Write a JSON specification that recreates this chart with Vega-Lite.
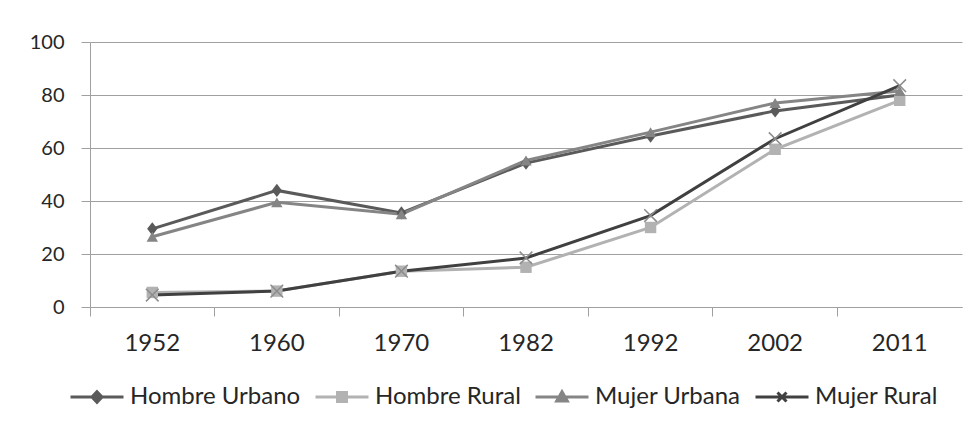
{
  "$schema": "https://vega.github.io/schema/vega-lite/v6.json",
  "width": 872,
  "height": 265,
  "autosize": {"type": "none"},
  "padding": {"left": 90, "top": 42, "right": 15, "bottom": 119},
  "background": "white",
  "data": {
    "values": [
      {"year": "1952", "series": "Hombre Urbano", "value": 29.5},
      {"year": "1960", "series": "Hombre Urbano", "value": 44},
      {"year": "1970", "series": "Hombre Urbano", "value": 35.5},
      {"year": "1982", "series": "Hombre Urbano", "value": 54.3},
      {"year": "1992", "series": "Hombre Urbano", "value": 64.5},
      {"year": "2002", "series": "Hombre Urbano", "value": 74},
      {"year": "2011", "series": "Hombre Urbano", "value": 80},
      {"year": "1952", "series": "Hombre Rural", "value": 5.5},
      {"year": "1960", "series": "Hombre Rural", "value": 6},
      {"year": "1970", "series": "Hombre Rural", "value": 13.5},
      {"year": "1982", "series": "Hombre Rural", "value": 15},
      {"year": "1992", "series": "Hombre Rural", "value": 30},
      {"year": "2002", "series": "Hombre Rural", "value": 59.5},
      {"year": "2011", "series": "Hombre Rural", "value": 78},
      {"year": "1952", "series": "Mujer Urbana", "value": 26.5},
      {"year": "1960", "series": "Mujer Urbana", "value": 39.5},
      {"year": "1970", "series": "Mujer Urbana", "value": 35},
      {"year": "1982", "series": "Mujer Urbana", "value": 55.3},
      {"year": "1992", "series": "Mujer Urbana", "value": 66},
      {"year": "2002", "series": "Mujer Urbana", "value": 77},
      {"year": "2011", "series": "Mujer Urbana", "value": 81.5},
      {"year": "1952", "series": "Mujer Rural", "value": 4.5},
      {"year": "1960", "series": "Mujer Rural", "value": 6},
      {"year": "1970", "series": "Mujer Rural", "value": 13.5},
      {"year": "1982", "series": "Mujer Rural", "value": 18.5},
      {"year": "1992", "series": "Mujer Rural", "value": 34.5},
      {"year": "2002", "series": "Mujer Rural", "value": 63.5},
      {"year": "2011", "series": "Mujer Rural", "value": 83.5}
    ]
  },
  "encoding": {
    "x": {
      "field": "year",
      "type": "ordinal",
      "bandPosition": 0.5,
      "scale": {"type": "band", "paddingInner": 0, "paddingOuter": 0},
      "axis": {
        "title": null,
        "labelAngle": 0,
        "bandPosition": 0,
        "domainColor": "#a0a0a0",
        "tickColor": "#a0a0a0",
        "tickSize": 9,
        "grid": false,
        "labelFontSize": 24,
        "labelFont": "Lato",
        "labelColor": "#262626",
        "labelPadding": 15
      }
    },
    "y": {
      "field": "value",
      "type": "quantitative",
      "scale": {"domain": [0, 100], "nice": false},
      "axis": {
        "title": null,
        "values": [0, 20, 40, 60, 80, 100],
        "domainColor": "#a0a0a0",
        "tickColor": "#a0a0a0",
        "tickSize": 9,
        "grid": true,
        "gridColor": "#a0a0a0",
        "labelFontSize": 20,
        "labelFont": "Lato",
        "labelColor": "#262626",
        "labelPadding": 17
      }
    }
  },
  "layer": [
    {
      "mark": {"type": "line", "strokeWidth": 3},
      "encoding": {
        "color": {
          "field": "series",
          "type": "nominal",
          "scale": {
            "domain": ["Hombre Urbano", "Hombre Rural", "Mujer Urbana", "Mujer Rural"],
            "range": ["#5a5a5a", "#b2b2b2", "#858585", "#404040"]
          },
          "legend": {
            "title": null,
            "orient": "none",
            "legendX": -21,
            "legendY": 327,
            "direction": "horizontal",
            "columns": 4,
            "columnPadding": 8,
            "symbolSize": 2809,
            "symbolStrokeWidth": 3,
            "labelFontSize": 24,
            "labelFont": "Lato",
            "labelColor": "#262626",
            "labelOffset": 5,
            "labelLimit": 400,
            "encode": {
              "symbols": {
                "update": {
                  "shape": {"signal": "datum.value === 'Hombre Urbano' ? 'M-1,0H1M0,-0.2L0.19,0L0,0.2L-0.19,0Z' : datum.value === 'Hombre Rural' ? 'M-1,0H1M-0.17,-0.17H0.17V0.17H-0.17Z' : datum.value === 'Mujer Urbana' ? 'M-1,0H1M0,-0.2L0.2,0.15L-0.2,0.15Z' : 'M-1,0H1M-0.17,-0.17L0.17,0.17M-0.17,0.17L0.17,-0.17'"},
                  "fill": {"scale": "color", "field": "value"},
                  "stroke": {"scale": "color", "field": "value"},
                  "strokeWidth": {"value": 3},
                  "opacity": {"value": 1},
                  "fillOpacity": {"value": 1}
                }
              }
            }
          }
        }
      }
    },
    {
      "transform": [{"filter": "datum.series !== 'Mujer Rural'"}],
      "mark": {"type": "point", "filled": true, "size": 130, "opacity": 1},
      "encoding": {
        "color": {"field": "series", "type": "nominal"},
        "shape": {
          "field": "series",
          "type": "nominal",
          "scale": {
            "domain": ["Hombre Urbano", "Hombre Rural", "Mujer Urbana"],
            "range": ["M0,-1.15L0.9,0L0,1.15L-0.9,0Z", "square", "triangle-up"]
          },
          "legend": null
        }
      }
    },
    {
      "transform": [{"filter": "datum.series === 'Mujer Rural'"}],
      "mark": {"type": "point", "shape": "M-1,-1L1,1M-1,1L1,-1", "filled": false, "color": "#8c8c8c", "strokeWidth": 1.5, "size": 160, "opacity": 1},
      "encoding": {}
    }
  ],
  "config": {"view": {"stroke": null}, "font": "Lato"}
}
